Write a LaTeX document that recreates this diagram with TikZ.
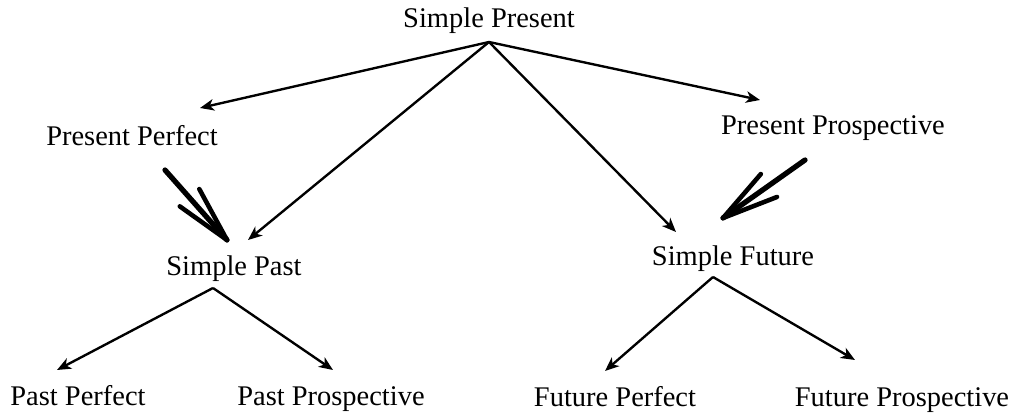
\documentclass[tikz,border=0pt]{standalone}
\usepackage{fontspec}
\setmainfont{Liberation Serif}
\usetikzlibrary{arrows.meta,calc}
\begin{document}
\begin{tikzpicture}[x=0.02cm,y=-0.02cm,
  lbl/.style={anchor=base,inner sep=0pt,font=\fontsize{16.2pt}{19pt}\selectfont},
  thin/.style={line width=1.35pt,-{Stealth[length=0.28cm,width=0.23cm,inset=0.08cm]}},
  thickshaft/.style={line width=3pt,line cap=round,line join=round},
  thickbarb/.style={line width=2.6pt,line cap=round}]
\useasboundingbox (0,0) rectangle (1015,415);
% nodes
\node[lbl] (sp)   at (489,28)  {Simple Present};
\node[lbl] (ppf)  at (132,146) {Present Perfect};
\node[lbl] (ppr)  at (833,135) {Present Prospective};
\node[lbl] (spa)  at (234,276) {Simple Past};
\node[lbl] (sfu)  at (733,266) {Simple Future};
\node[lbl] (pape) at (78,405)  {Past Perfect};
\node[lbl] (papr) at (331,405) {Past Prospective};
\node[lbl] (fupe) at (615,406) {Future Perfect};
\node[lbl] (fupr) at (902,406) {Future Prospective};
% connector points
\coordinate (spA) at (489,42);
\coordinate (ppfIn) at (200,108);
\coordinate (pprIn) at (760,100);
\coordinate (spaIn) at (248,240);
\coordinate (sfuIn) at (676,232);
\coordinate (spaA) at (213,288);
\coordinate (sfuA) at (713,277);
\coordinate (papeIn) at (57,370);
\coordinate (paprIn) at (333,370);
\coordinate (fupeIn) at (605,371);
\coordinate (fuprIn) at (855,360);
\coordinate (ppfOut) at (165,170);
\coordinate (spaIn2) at (227,240);
\coordinate (pprOut) at (805,160);
\coordinate (sfuIn2) at (723,218);
% thin arrows
\draw[thin] (spA) -- (ppfIn);
\draw[thin] (spA) -- (pprIn);
\draw[thin] (spA) -- (spaIn);
\draw[thin] (spA) -- (sfuIn);
\draw[thin] (spaA) -- (papeIn);
\draw[thin] (spaA) -- (paprIn);
\draw[thin] (sfuA) -- (fupeIn);
\draw[thin] (sfuA) -- (fuprIn);
% thick arrows
\draw[thickshaft] (ppfOut) -- (spaIn2);
\draw[thickbarb] (spaIn2) -- ($(spaIn2)!1.16cm!13:(ppfOut)$);
\draw[thickbarb] (spaIn2) -- ($(spaIn2)!1.16cm!-13:(ppfOut)$);
\draw[thickshaft] (pprOut) -- (sfuIn2);
\draw[thickbarb] (sfuIn2) -- ($(sfuIn2)!1.16cm!14:(pprOut)$);
\draw[thickbarb] (sfuIn2) -- ($(sfuIn2)!1.16cm!-14:(pprOut)$);
\end{tikzpicture}
\end{document}
